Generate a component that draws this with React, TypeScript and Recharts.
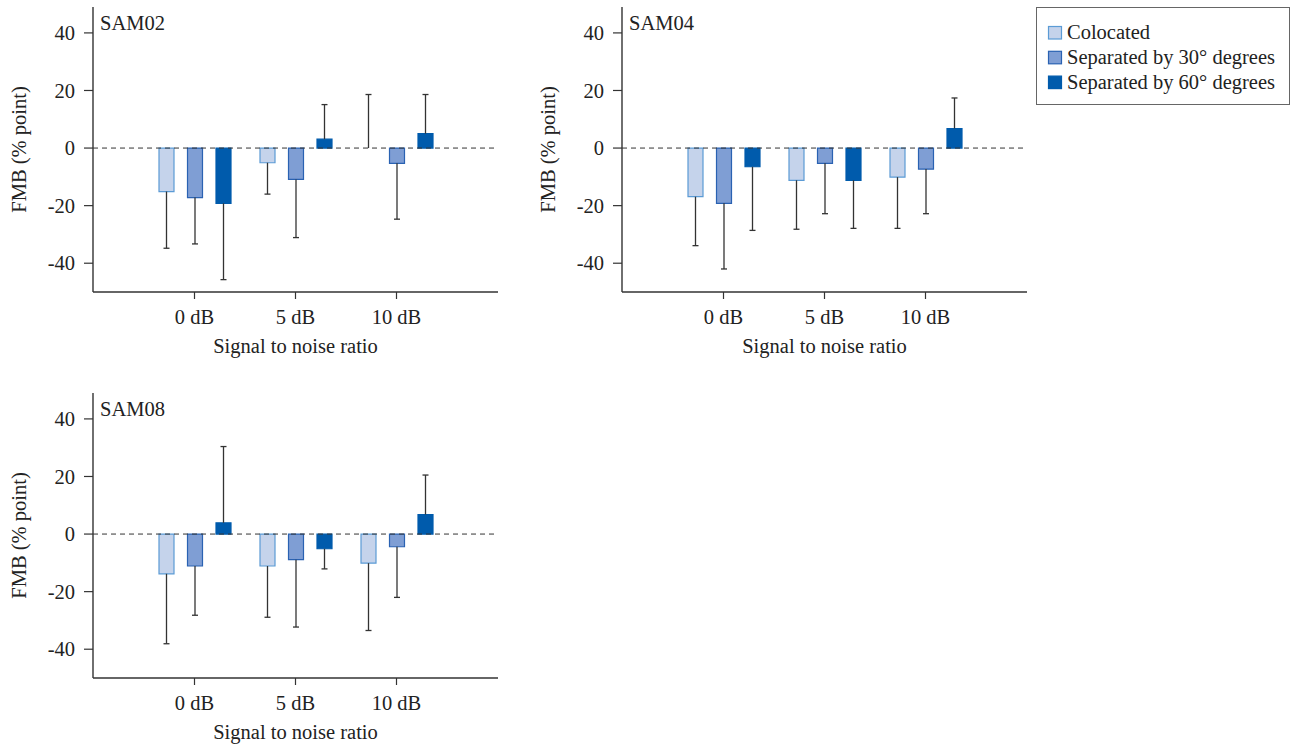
import React from 'react';
import { BarChart, Bar, XAxis, YAxis, ReferenceLine, Label } from 'recharts';

const snrLabels = ['0 dB', '5 dB', '10 dB'];
const seriesNames = ['Colocated', 'Separated by 30\u00b0 degrees', 'Separated by 60\u00b0 degrees'];
const yTicks = [-40, -20, 0, 20, 40];

// SAM02
const sam02Colocated = [-15.1, -5.1, 0];
const sam02Sep30 = [-17.2, -10.9, -5.3];
const sam02Sep60 = [-19.2, 3.1, 5.0];
const sam02ColocatedEnd = [-34.8, -16.0, 18.6];
const sam02Sep30End = [-33.3, -31.1, -24.7];
const sam02Sep60End = [-45.7, 15.1, 18.6];

// SAM04
const sam04Colocated = [-16.9, -11.2, -10.1];
const sam04Sep30 = [-19.2, -5.3, -7.3];
const sam04Sep60 = [-6.5, -11.2, 6.8];
const sam04ColocatedEnd = [-33.9, -28.2, -27.9];
const sam04Sep30End = [-42.0, -22.8, -22.8];
const sam04Sep60End = [-28.6, -27.9, 17.4];

// SAM08
const sam08Colocated = [-13.8, -11.1, -10.1];
const sam08Sep30 = [-11.1, -8.9, -4.4];
const sam08Sep60 = [3.9, -5.1, 6.8];
const sam08ColocatedEnd = [-38.1, -28.9, -33.5];
const sam08Sep30End = [-28.2, -32.3, -22.0];
const sam08Sep60End = [30.4, -12.1, 20.5];

const FONT = '"Liberation Serif", "Times New Roman", serif';
const FS = 20.5;
const TEXT = '#222';
const AXIS = '#333';
const FILLS = ['#c5d3eb', '#7f9ed4', '#005bac'];
const STROKES = ['#5b9bd5', '#2a62b2', '#005bac'];

function buildRows(c: number[], s30: number[], s60: number[], cE: number[], s30E: number[], s60E: number[]) {
  return snrLabels.map((snr, i) => ({
    snr,
    c: c[i],
    cErr: +(cE[i] - c[i]).toFixed(2),
    s30: s30[i],
    s30Err: +(s30E[i] - s30[i]).toFixed(2),
    s60: s60[i],
    s60Err: +(s60E[i] - s60[i]).toFixed(2),
  }));
}

const errShape = (key: string) => (props: any) => {
  const { x, y, width, height, payload } = props;
  if (x == null || y == null || !payload) return <g />;
  const delta = payload[key];
  const y1 = y;
  const y2 = y + (height || 0);
  const top = Math.min(y1, y2);
  const bottom = Math.max(y1, y2);
  const cx = x + width / 2;
  const far = delta >= 0 ? top : bottom;
  return (
    <g>
      <line x1={cx} x2={cx} y1={top} y2={bottom} stroke={AXIS} strokeWidth={1.3} />
      <line x1={cx - 3} x2={cx + 3} y1={far} y2={far} stroke={AXIS} strokeWidth={1.3} />
    </g>
  );
};

const YLabel = (props: any) => {
  const vb = props.viewBox || {};
  const cx = (vb.x || 0) + 19;
  const cy = (vb.y || 0) + (vb.height || 0) / 2;
  return (
    <text
      x={cx}
      y={cy}
      transform={`rotate(-90, ${cx}, ${cy})`}
      textAnchor="middle"
      dominantBaseline="central"
      fontFamily={FONT}
      fontSize={FS}
      fill={TEXT}
    >
      FMB (% point)
    </text>
  );
};

function Panel({ data, left, top }: { data: any[]; left: number; top: number }) {
  const keys = ['c', 's30', 's60'];
  return (
    <div style={{ position: 'absolute', left, top, width: 520, height: 360 }}>
      <BarChart
        width={520}
        height={360}
        data={data}
        margin={{ top: 7, right: 22, bottom: 7, left: 0 }}
        barSize={15}
        barGap={13.5}
      >
        <XAxis
          dataKey="snr"
          padding={{ left: 51, right: 51 }}
          height={61}
          axisLine={{ stroke: AXIS, strokeWidth: 1.4 }}
          tickLine={{ stroke: AXIS, strokeWidth: 1.2 }}
          tickSize={7}
          tickMargin={10}
          tick={{ fontSize: FS, fill: TEXT, fontFamily: FONT }}
          interval={0}
        >
          <Label
            value="Signal to noise ratio"
            position="insideBottom"
            offset={0}
            style={{ fontSize: FS, fill: TEXT, fontFamily: FONT }}
          />
        </XAxis>
        <YAxis
          width={93}
          domain={[-50, 49]}
          ticks={yTicks}
          allowDataOverflow
          axisLine={{ stroke: AXIS, strokeWidth: 1.4 }}
          tickLine={{ stroke: AXIS, strokeWidth: 1.2 }}
          tickSize={9}
          tickMargin={9}
          tick={{ fontSize: FS, fill: TEXT, fontFamily: FONT }}
        >
          <Label content={<YLabel />} />
        </YAxis>
        <ReferenceLine y={0} stroke={AXIS} strokeWidth={1} strokeDasharray="5 4" />
        {keys.map((k, i) => (
          <Bar
            key={k}
            dataKey={k}
            stackId={k}
            fill={FILLS[i]}
            stroke={STROKES[i]}
            strokeWidth={1.2}
            isAnimationActive={false}
          />
        ))}
        {keys.map((k) => (
          <Bar
            key={k + 'Err'}
            dataKey={k + 'Err'}
            stackId={k}
            fill="none"
            shape={errShape(k + 'Err')}
            isAnimationActive={false}
          />
        ))}
      </BarChart>
    </div>
  );
}

const panelTitles = ['SAM02', 'SAM04', 'SAM08'];

export default function App() {
  const d02 = buildRows(sam02Colocated, sam02Sep30, sam02Sep60, sam02ColocatedEnd, sam02Sep30End, sam02Sep60End);
  const d04 = buildRows(sam04Colocated, sam04Sep30, sam04Sep60, sam04ColocatedEnd, sam04Sep30End, sam04Sep60End);
  const d08 = buildRows(sam08Colocated, sam08Sep30, sam08Sep60, sam08ColocatedEnd, sam08Sep30End, sam08Sep60End);
  return (
    <div style={{ position: 'absolute', left: 0, top: 0, width: 1293, height: 746, background: '#fff' }}>
      <Panel data={d02} left={0} top={0} />
      <Panel data={d04} left={529} top={0} />
      <Panel data={d08} left={0} top={386} />
      <svg
        width={1293}
        height={746}
        style={{ position: 'absolute', left: 0, top: 0, pointerEvents: 'none' }}
      >
        <g fontFamily={FONT} fontSize={FS} fill={TEXT}>
          <text x={100} y={30}>{panelTitles[0]}</text>
          <text x={629} y={30}>{panelTitles[1]}</text>
          <text x={100} y={416}>{panelTitles[2]}</text>
        </g>
        <rect x={1036.5} y={7.5} width={253} height={97} fill="#fff" stroke="#666" strokeWidth={1} />
        {seriesNames.map((name, i) => (
          <g key={name}>
            <rect
              x={1048.5}
              y={26.5 + i * 24.8}
              width={13}
              height={12.5}
              fill={FILLS[i]}
              stroke={STROKES[i]}
              strokeWidth={1.2}
            />
            <text x={1067} y={38.5 + i * 25} fontFamily={FONT} fontSize={FS} fill={TEXT}>
              {name}
            </text>
          </g>
        ))}
      </svg>
    </div>
  );
}
